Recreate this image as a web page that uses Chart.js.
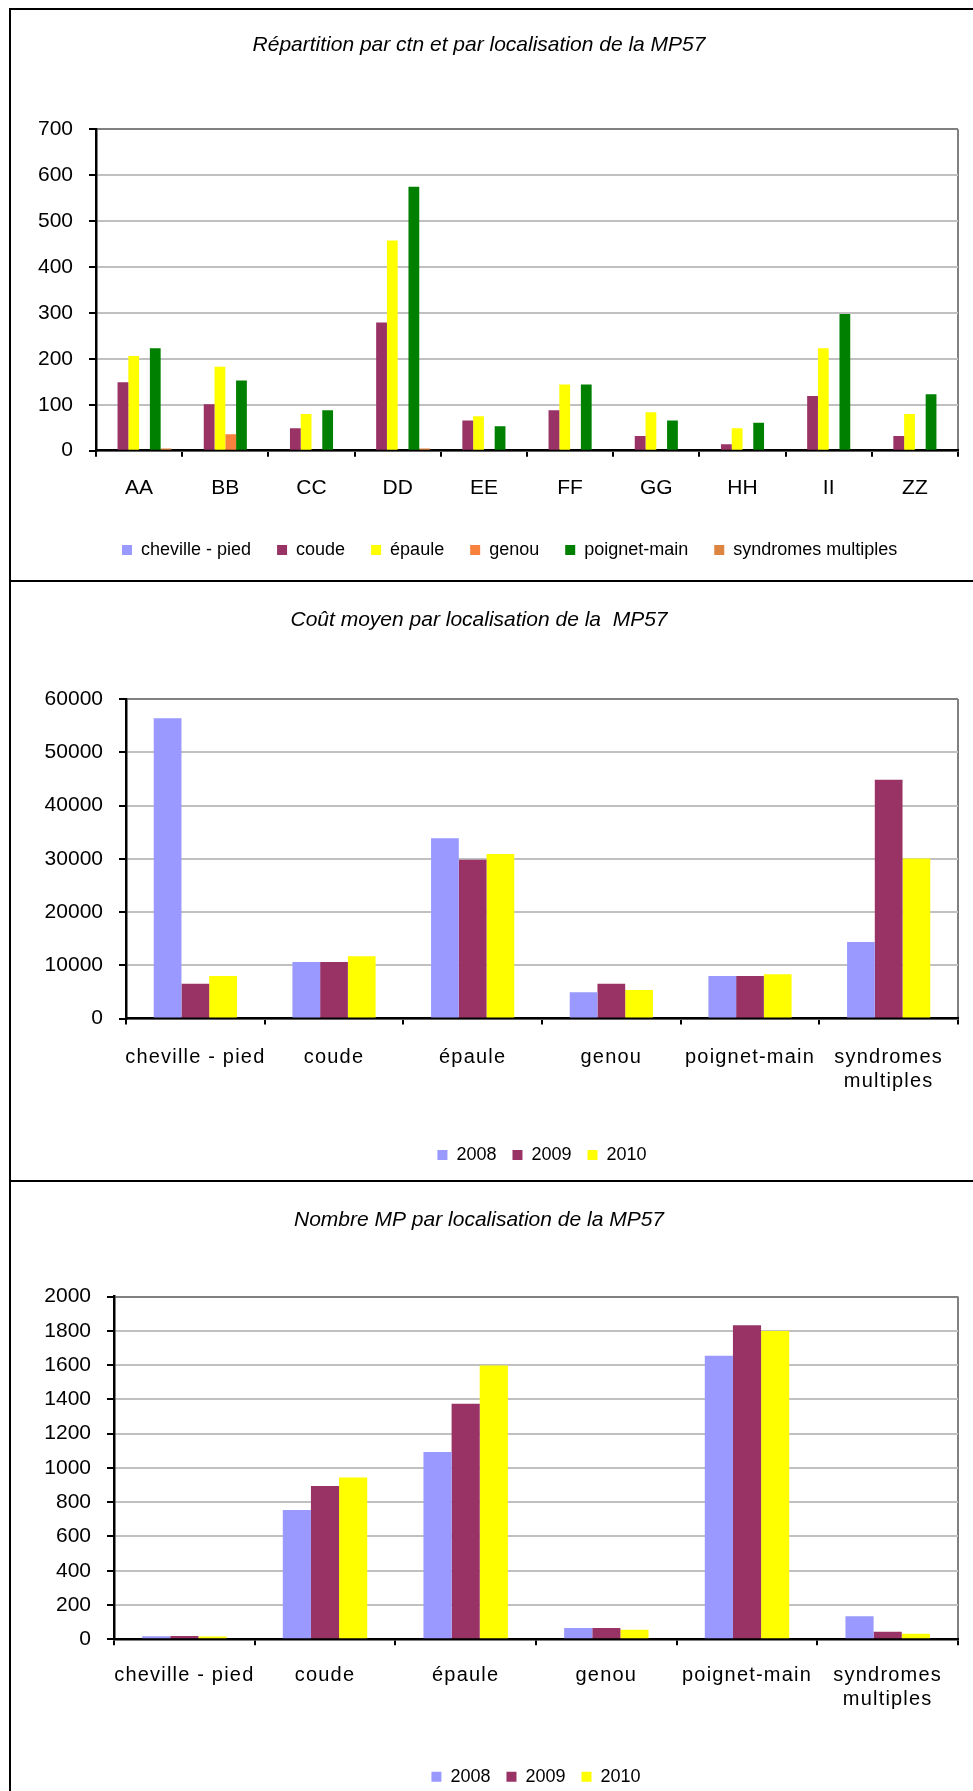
<!DOCTYPE html>
<html lang="fr">
<head>
<meta charset="UTF-8">
<title>MP57 - répartition, coût moyen, nombre</title>
<script src="https://cdn.jsdelivr.net/npm/chart.js"></script>
<style>
    html, body {
        margin: 0;
        padding: 0;
        background: #fff;
        overflow: hidden;
    }
    body {
        position: relative;
        width: 973px;
        height: 1791px;
    }
    .panel {
        position: absolute;
        left: 9px;
        width: 1000px;
        border: 2px solid #000;
        box-sizing: border-box;
    }
    canvas {
        position: absolute;
        left: 0;
    }
</style>
</head>
<body>
<div class="panel" style="top:8px;height:574px"></div>
<div class="panel" style="top:580px;height:602px"></div>
<div class="panel" style="top:1180px;height:700px"></div>
<canvas id="c1" width="988" height="581" style="top:0"></canvas>
<canvas id="c2" width="994" height="600" style="top:581px"></canvas>
<canvas id="c3" width="994" height="620" style="top:1181px"></canvas>

<script>
// --- chart 1 : répartition par ctn
const ctnLabels = ['AA', 'BB', 'CC', 'DD', 'EE', 'FF', 'GG', 'HH', 'II', 'ZZ'];
const ctnCheville   = [0, 0, 0, 0, 0, 0, 0, 0, 0, 0];
const ctnCoude      = [149, 101, 49, 279, 66, 88, 32, 14, 119, 32];
const ctnEpaule     = [206, 183, 80, 458, 75, 144, 84, 49, 223, 80];
const ctnGenou      = [0, 36, 0, 0, 0, 0, 0, 0, 0, 0];
const ctnPoignet    = [223, 153, 88, 575, 53, 144, 66, 61, 298, 123];
const ctnSyndromes  = [5, 0, 0, 5, 0, 0, 0, 0, 0, 0];
const ctnTicks = [0, 100, 200, 300, 400, 500, 600, 700];

// --- charts 2 and 3 : par localisation
const locLabels = ['cheville - pied', 'coude', 'épaule', 'genou', 'poignet-main', ['syndromes', 'multiples']];
const years = ['2008', '2009', '2010'];

const cout2008 = [56400, 10630, 33840, 4960, 7980, 14370];
const cout2009 = [6540, 10630, 29820, 6540, 7980, 44840];
const cout2010 = [7980, 11710, 30900, 5390, 8340, 30040];
const coutTicks = [0, 10000, 20000, 30000, 40000, 50000, 60000];

const nb2008 = [18, 755, 1093, 66, 1655, 135];
const nb2009 = [19, 895, 1375, 66, 1832, 44];
const nb2010 = [17, 944, 1598, 55, 1798, 32];
const nbTicks = [0, 200, 400, 600, 800, 1000, 1200, 1400, 1600, 1800, 2000];

const COL = {
    cheville: '#9999FF',
    coude: '#993366',
    epaule: '#FFFF00',
    genou: '#F7813D',
    poignet: '#008000',
    syndromes: '#DE8441'
};
const yearColors = ['#9999FF', '#993366', '#FFFF00'];

Chart.defaults.font.family = '"Liberation Sans", Arial, sans-serif';
Chart.defaults.color = '#000';

// the category labels of the two lower charts are slightly letter-spaced
const spacedTicks = {
    id: 'spacedTicks',
    beforeDraw(chart, args, opts) {
        const sc = chart.scales.x;
        if (!opts.spacing || sc._spaced) return;
        const orig = sc.drawLabels;
        sc.drawLabels = function (area) {
            this.ctx.letterSpacing = opts.spacing;
            orig.call(this, area);
            this.ctx.letterSpacing = '0px';
        };
        sc._spaced = true;
    }
};

function bar(label, data, color) {
    return {
        label: label,
        data: data,
        backgroundColor: color,
        borderColor: color,
        borderWidth: 0
    };
}

function buildOptions(o) {
    const maxVal = o.ticks[o.ticks.length - 1];
    return {
        responsive: false,
        animation: false,
        events: [],
        layout: {
            padding: { left: 0, right: o.padRight, top: 0, bottom: o.padBottom }
        },
        datasets: {
            bar: {
                categoryPercentage: o.catPct,
                barPercentage: 1
            }
        },
        plugins: {
            spacedTicks: { spacing: o.xSpacing },
            title: {
                display: true,
                text: o.title,
                color: '#000',
                font: { size: 21, style: 'italic', weight: 'normal' },
                padding: { top: o.titleTop, bottom: o.titleBottom }
            },
            legend: {
                position: 'bottom',
                fullSize: false,
                align: o.legendAlign,
                labels: {
                    boxWidth: 10,
                    boxHeight: 10,
                    padding: o.legendPad,
                    color: '#000',
                    font: { size: 18 }
                }
            },
            tooltip: { enabled: false }
        },
        scales: {
            x: {
                grid: {
                    offset: true,
                    drawOnChartArea: true,
                    color: (c) => c.type === 'scale' ? '#808080' : 'rgba(0,0,0,0)',
                    lineWidth: 2,
                    tickColor: '#000',
                    tickWidth: 2,
                    tickLength: 6
                },
                border: { color: '#000', width: 2.5 },
                ticks: {
                    color: '#000',
                    font: { size: o.xFont, lineHeight: o.xLine },
                    padding: o.xPad,
                    maxRotation: 0,
                    autoSkip: false
                },
                afterFit: (s) => { s.height = o.xHeight; }
            },
            y: {
                min: o.ticks[0],
                max: maxVal,
                afterBuildTicks: (s) => { s.ticks = o.ticks.map(v => ({ value: v })); },
                ticks: {
                    color: '#000',
                    font: { size: 21 },
                    padding: 16,
                    callback: (v) => String(v)
                },
                grid: {
                    color: (c) => (c.tick && c.tick.value === maxVal) ? '#808080' : '#C0C0C0',
                    lineWidth: 2,
                    tickColor: '#000',
                    tickWidth: 2,
                    tickLength: 7
                },
                border: { color: '#000', width: 2.5 },
                afterFit: (s) => { s.width = o.yWidth; }
            }
        }
    };
}

new Chart(document.getElementById('c1'), {
    type: 'bar',
    data: {
        labels: ctnLabels,
        datasets: [
            bar('cheville - pied', ctnCheville, COL.cheville),
            bar('coude', ctnCoude, COL.coude),
            bar('épaule', ctnEpaule, COL.epaule),
            bar('genou', ctnGenou, COL.genou),
            bar('poignet-main', ctnPoignet, COL.poignet),
            bar('syndromes multiples', ctnSyndromes, COL.syndromes)
        ]
    },
    plugins: [spacedTicks],
    options: buildOptions({
        title: 'Répartition par ctn et par localisation de la MP57',
        ticks: ctnTicks,
        catPct: 0.75,
        yWidth: 96,
        padRight: 30,
        padBottom: 12,
        titleTop: 32.4,
        titleBottom: 71.7,
        legendAlign: 'start',
        legendPad: 26,
        xFont: 21,
        xLine: 1.2,
        xSpacing: null,
        xPad: 19,
        xHeight: 64.3
    })
});

new Chart(document.getElementById('c2'), {
    type: 'bar',
    data: {
        labels: locLabels,
        datasets: [
            bar(years[0], cout2008, yearColors[0]),
            bar(years[1], cout2009, yearColors[1]),
            bar(years[2], cout2010, yearColors[2])
        ]
    },
    plugins: [spacedTicks],
    options: buildOptions({
        title: 'Coût moyen par localisation de la  MP57',
        ticks: coutTicks,
        catPct: 0.6,
        yWidth: 126,
        padRight: 36,
        padBottom: 7,
        titleTop: 27,
        titleBottom: 65.8,
        legendAlign: 'center',
        legendPad: 16,
        xFont: 20,
        xLine: 1.22,
        xSpacing: '1.2px',
        xPad: 20.5,
        xHeight: 111.4
    })
});

new Chart(document.getElementById('c3'), {
    type: 'bar',
    data: {
        labels: locLabels,
        datasets: [
            bar(years[0], nb2008, yearColors[0]),
            bar(years[1], nb2009, yearColors[1]),
            bar(years[2], nb2010, yearColors[2])
        ]
    },
    plugins: [spacedTicks],
    options: buildOptions({
        title: 'Nombre MP par localisation de la MP57',
        ticks: nbTicks,
        catPct: 0.6,
        yWidth: 114,
        padRight: 36,
        padBottom: 5.2,
        titleTop: 26.6,
        titleBottom: 63.7,
        legendAlign: 'center',
        legendPad: 16,
        xFont: 20,
        xLine: 1.22,
        xSpacing: '1.2px',
        xPad: 17.6,
        xHeight: 112.5
    })
});
</script>
</body>
</html>
